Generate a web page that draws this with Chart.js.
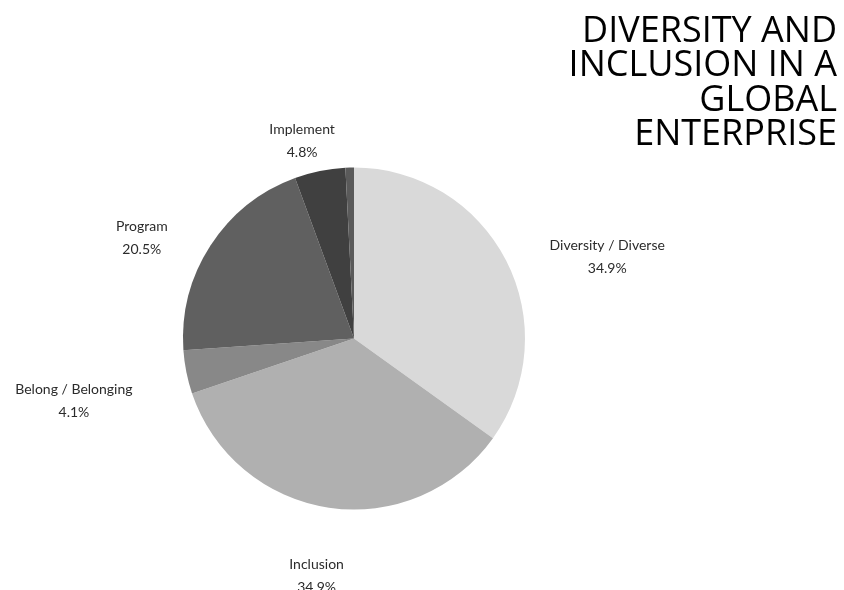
<!DOCTYPE html>
<html>
<head>
<meta charset="utf-8">
<script src="https://cdn.jsdelivr.net/npm/chart.js@4.4.1/dist/chart.umd.min.js"></script>
<style>
  html, body { margin: 0; padding: 0; background: #ffffff; }
  #wrap { width: 844px; height: 590px; position: relative; }
</style>
</head>
<body>
<div id="wrap"><canvas id="chart" width="844" height="590"></canvas></div>
<script>
// Share of each theme (percent)
const categories = ['Diversity / Diverse', 'Inclusion', 'Belong / Belonging', 'Program', 'Implement', 'Other'];
const shares = [34.9, 34.9, 4.1, 20.5, 4.8, 0.8];
const sliceColors = ['#d9d9d9', '#b0b0b0', '#888888', '#606060', '#404040', '#5a5a5a'];
const titleLines = ['DIVERSITY AND', 'INCLUSION IN A', 'GLOBAL', 'ENTERPRISE'];

const LABEL_FONT = '14px Lato, "PT Sans", "Noto Sans", sans-serif';

// Outside labels: name on one line, percentage underneath.
// Labels sit on an ellipse around the pie, pushed out by half their box size.
const outsideLabels = {
  id: 'outsideLabels',
  afterDatasetsDraw(chart) {
    const ctx = chart.ctx;
    const meta = chart.getDatasetMeta(0);
    const values = chart.data.datasets[0].data;
    const total = values.reduce((a, b) => a + b, 0);
    ctx.save();
    ctx.font = LABEL_FONT;
    ctx.fillStyle = '#2b2b2b';
    ctx.textAlign = 'center';
    ctx.textBaseline = 'middle';
    const lineGap = 23;
    meta.data.forEach((arc, i) => {
      const pct = values[i] / total * 100;
      if (pct < 1) return;
      const p = arc.getProps(['x', 'y', 'startAngle', 'endAngle', 'outerRadius'], true);
      const mid = (p.startAngle + p.endAngle) / 2;
      const dx = Math.cos(mid), dy = Math.sin(mid);
      const name = chart.data.labels[i];
      const pctText = pct.toFixed(1) + '%';
      const w = Math.max(ctx.measureText(name).width, ctx.measureText(pctText).width);
      const h = lineGap + 14;
      const rx = p.outerRadius + 56;
      const ry = p.outerRadius + 31;
      const cx = p.x + dx * rx + dx * w / 2;
      const cy = p.y + 19 + dy * ry + dy * h / 2;
      ctx.fillText(name, cx, cy - lineGap / 2);
      ctx.fillText(pctText, cx, cy + lineGap / 2);
    });
    ctx.restore();
  }
};

// Right-aligned heading in the top-right corner
const cornerTitle = {
  id: 'cornerTitle',
  afterDraw(chart) {
    const ctx = chart.ctx;
    ctx.save();
    ctx.font = '500 36px "Open Sans", "Noto Sans", sans-serif';
    ctx.fillStyle = '#000000';
    ctx.textAlign = 'right';
    ctx.textBaseline = 'alphabetic';
    titleLines.forEach((line, i) => {
      ctx.fillText(line, 837, 42 + i * 34.3);
    });
    ctx.restore();
  }
};

new Chart(document.getElementById('chart'), {
  type: 'pie',
  data: {
    labels: categories,
    datasets: [{
      data: shares,
      backgroundColor: sliceColors,
      borderWidth: 0
    }]
  },
  options: {
    responsive: false,
    animation: false,
    layout: { padding: { left: 183, right: 319, top: 167, bottom: 80 } },
    plugins: {
      legend: { display: false },
      tooltip: { enabled: false },
      title: { display: false }
    }
  },
  plugins: [outsideLabels, cornerTitle]
});
</script>
</body>
</html>
